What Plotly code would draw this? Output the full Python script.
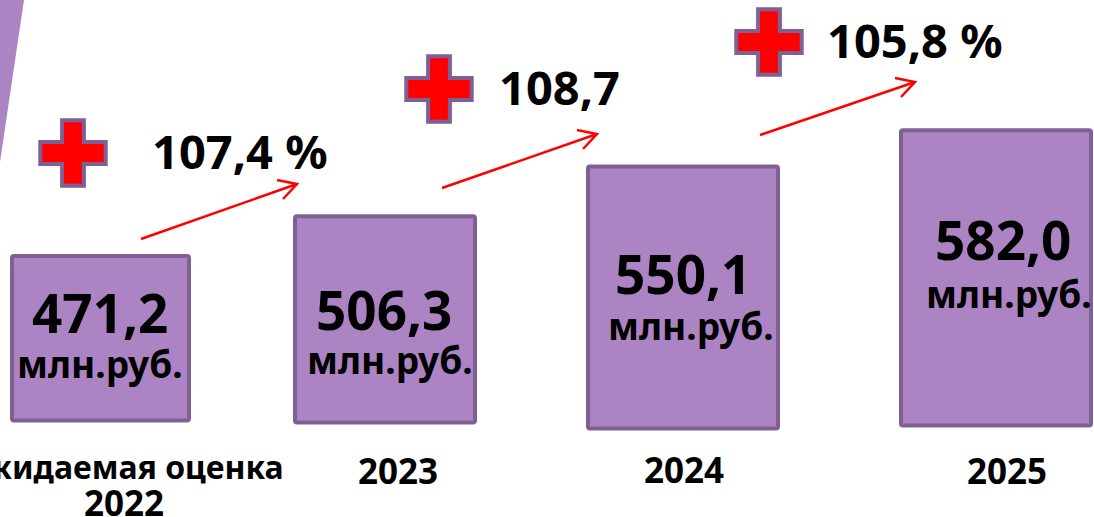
import plotly.graph_objects as go

W, H = 1094, 517
FONT = "Noto Sans"

# --- data ---
category_lines = ["ожидаемая оценка", "2022", "2023", "2024", "2025"]
values = [471.2, 506.3, 550.1, 582.0]
value_labels = ["471,2", "506,3", "550,1", "582,0"]
unit_label = "млн.руб."
growth_labels = ["107,4 %", "108,7", "105,8 %"]

# --- layout constants (pixels on the slide) ---
AXIS_BOTTOM = 440
PX_PER_UNIT = 1.134
Y_REF_VALUE, Y_REF_PX = 527.65, 192


def val_at(px):
    return Y_REF_VALUE + (Y_REF_PX - px) / PX_PER_UNIT


def py(px):
    return 1 - px / AXIS_BOTTOM


bar_centers = [100.5, 385, 683, 996]
bar_widths = [177, 180, 190, 190]
bar_bottom_px = [420.5, 422.5, 428.5, 425.5]
category_pos = [(124, 466, 32), (124, 502, 35), (398, 470, 35), (684, 469, 35), (1007, 470, 35)]
value_pos = [(100, 312), (384, 309), (683, 273), (1003, 240)]
unit_pos = [(100, 363), (390, 359), (691, 325), (1009, 293)]
growth_pos = [(240, 151), (559, 87), (915, 40)]
cross_pos = [(73, 153), (439, 89), (769, 42)]
arrows = [((141, 239), (297, 184)), ((442, 188), (597, 134)), ((760, 135), (915, 82))]
PURPLE, EDGE = "#AC84C4", "#7F6095"

fig = go.Figure()
fig.add_bar(
    x=bar_centers, y=[v - val_at(b) for v, b in zip(values, bar_bottom_px)],
    base=[val_at(b) for b in bar_bottom_px], width=bar_widths,
    marker=dict(color=PURPLE, line=dict(color=EDGE, width=4)),
    hoverinfo="skip",
)
fig.add_scatter(
    x=[c[0] for c in cross_pos], y=[val_at(c[1]) for c in cross_pos],
    mode="markers", hoverinfo="skip",
    marker=dict(symbol="cross", size=54.5, color="#FF0000", line=dict(color=EDGE, width=4)),
)

shapes = [dict(
    type="path", xref="x", yref="paper",
    path=f"M 0 {py(0)} L 24 {py(0)} L 0 {py(162)} Z",
    fillcolor=PURPLE, line=dict(width=0), layer="below",
)]
for (x0, y0), (x1, y1) in arrows:
    shapes.append(dict(type="path", xref="x", yref="paper",
        path=f"M {x0} {py(y0)} L {x1} {py(y1)} M {x1-20} {py(y1-4)} L {x1} {py(y1)} L {x1-14} {py(y1+15)}",
        line=dict(color="#FF0000", width=2.5)))

ann = []
def text(t, x, y, size):
    ann.append(dict(text=f"<b>{t}</b>", x=x, y=py(y), xref="x", yref="paper",
                    xanchor="center", yanchor="middle", showarrow=False,
                    font=dict(family=FONT, size=size, color="#000000")))

for lab, (x, y) in zip(value_labels, value_pos):
    text(lab, x, y, 53)
for x, y in unit_pos:
    text(unit_label, x, y, 37)
for lab, (x, y) in zip(growth_labels, growth_pos):
    text(lab, x, y, 47)
for lab, (x, y, s) in zip(category_lines, category_pos):
    text(lab, x, y, s)

fig.update_layout(
    width=W, height=H, autosize=False, showlegend=False,
    margin=dict(l=0, r=0, t=0, b=H - AXIS_BOTTOM),
    paper_bgcolor="white", plot_bgcolor="white", barcornerradius=2,
    xaxis=dict(range=[0, W], visible=False, showgrid=False, zeroline=False),
    yaxis=dict(range=[val_at(AXIS_BOTTOM), val_at(0)], visible=False, showgrid=False, zeroline=False),
    shapes=shapes, annotations=ann,
)
fig.write_html("out.html", config=dict(displayModeBar=False),
               post_script="document.body.style.margin='0';")
